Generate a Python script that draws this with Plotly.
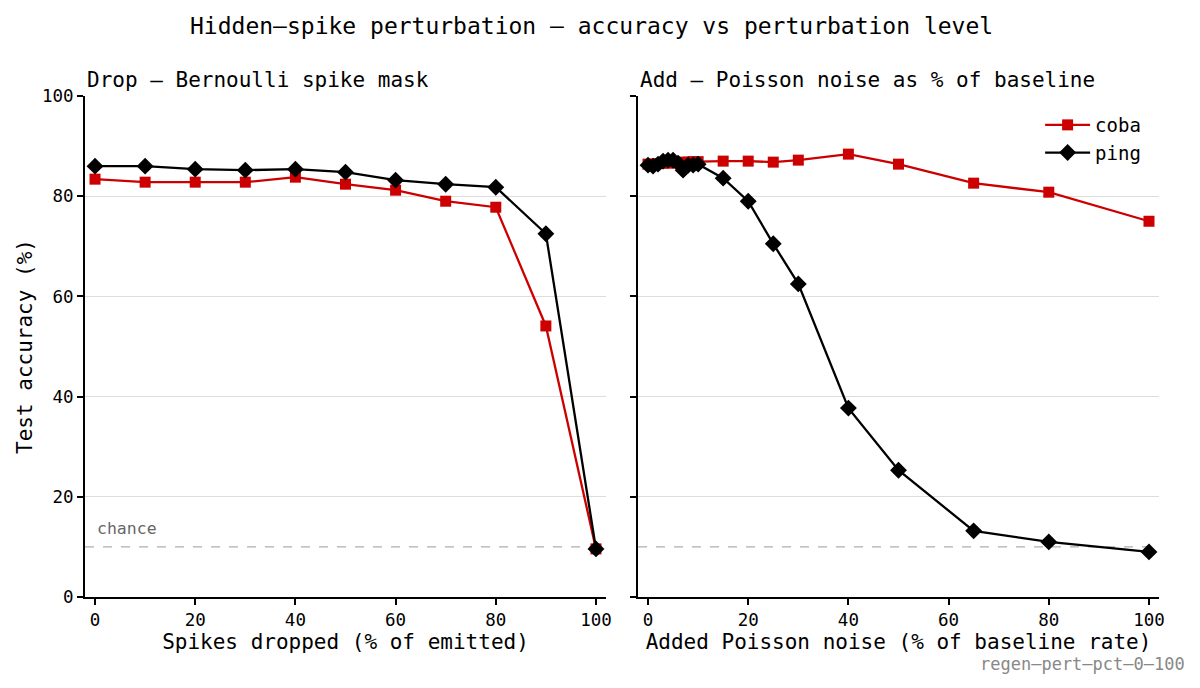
import plotly.graph_objects as go
from plotly.subplots import make_subplots

FONT = "DejaVu Sans Mono"

drop_x = [0, 10, 20, 30, 40, 50, 60, 70, 80, 90, 100]
drop_coba = [83.4, 82.8, 82.8, 82.8, 83.8, 82.4, 81.2, 79.0, 77.8, 54.1, 9.6]
drop_ping = [86.0, 86.0, 85.4, 85.2, 85.4, 84.8, 83.2, 82.4, 81.8, 72.5, 9.6]

add_x = [0, 1, 2, 3, 4, 5, 6, 7, 8, 9, 10, 15, 20, 25, 30, 40, 50, 65, 80, 100]
add_coba = [86.4, 86.4, 86.5, 86.6, 86.6, 86.7, 86.6, 86.8, 86.8, 86.9, 86.9,
            87.0, 87.0, 86.8, 87.2, 88.4, 86.4, 82.6, 80.8, 75.0]
add_ping = [86.2, 86.0, 86.4, 87.0, 87.2, 87.2, 86.6, 85.2, 86.2, 86.2, 86.4,
            83.6, 79.0, 70.5, 62.5, 37.7, 25.3, 13.2, 11.0, 9.0]

chance = 10
x_ticks = [0, 20, 40, 60, 80, 100]
y_ticks = [0, 20, 40, 60, 80, 100]

RED = "#cc0000"
BLACK = "#000000"

fig = make_subplots(rows=1, cols=2, shared_yaxes=True, horizontal_spacing=0.0298)

def add_series(col, x, coba, ping, show):
    fig.add_trace(go.Scatter(x=x, y=coba, mode="lines+markers", name="coba",
                             line=dict(color=RED, width=2.3),
                             marker=dict(symbol="square", size=11, color=RED),
                             showlegend=show), row=1, col=col)
    fig.add_trace(go.Scatter(x=x, y=ping, mode="lines+markers", name="ping",
                             line=dict(color=BLACK, width=2.3),
                             marker=dict(symbol="diamond", size=13, color=BLACK),
                             showlegend=show), row=1, col=col)

add_series(1, drop_x, drop_coba, drop_ping, False)
add_series(2, add_x, add_coba, add_ping, True)

for col in (1, 2):
    fig.add_hline(y=chance, line=dict(color="#999999", width=1, dash="dash"),
                  row=1, col=col, layer="below")

axis_common = dict(showline=True, linecolor="black", linewidth=2, ticks="outside",
                   ticklen=6, tickwidth=2, tickcolor="black", mirror=False,
                   tickfont=dict(family=FONT, size=17.5, color="black"), zeroline=False)

fig.update_xaxes(range=[-2, 102], tickvals=x_ticks, showgrid=False, **axis_common)
fig.update_yaxes(range=[0, 100], tickvals=y_ticks, showgrid=True, gridcolor="#dddddd",
                 gridwidth=1, **axis_common)
fig.update_yaxes(showticklabels=False, row=1, col=2)

fig.update_xaxes(title=dict(text="Spikes dropped (% of emitted)", font=dict(family=FONT, size=21, color="black"), standoff=4), row=1, col=1)
fig.update_xaxes(title=dict(text="Added Poisson noise (% of baseline rate)", font=dict(family=FONT, size=21, color="black"), standoff=4), row=1, col=2)
fig.update_yaxes(title=dict(text="Test accuracy (%)", font=dict(family=FONT, size=21, color="black"), standoff=4), row=1, col=1)

fig.add_annotation(text="Drop – Bernoulli spike mask", xref="x domain", yref="y domain",
                   x=0, y=1.0, xanchor="left", yanchor="bottom", yshift=2, showarrow=False,
                   font=dict(family=FONT, size=21, color="black"))
fig.add_annotation(text="Add – Poisson noise as % of baseline", xref="x2 domain", yref="y2 domain",
                   x=0, y=1.0, xanchor="left", yanchor="bottom", yshift=2, showarrow=False,
                   font=dict(family=FONT, size=21, color="black"))
fig.add_annotation(text="chance", xref="x", yref="y", x=0, y=chance, xanchor="left", yanchor="bottom",
                   yshift=7, showarrow=False, font=dict(family=FONT, size=16.5, color="#666666"))
fig.add_annotation(text="regen–pert–pct–0–100", xref="paper", yref="paper", x=1.0, y=0,
                   xanchor="right", yanchor="middle", xshift=28, yshift=-67, showarrow=False,
                   font=dict(family=FONT, size=17, color="#888888"))

fig.update_layout(
    width=1200, height=688,
    margin=dict(l=85, r=41, t=96, b=91),
    paper_bgcolor="white", plot_bgcolor="white",
    title=dict(text="Hidden–spike perturbation – accuracy vs perturbation level",
               x=0.493, xanchor="center", y=0.963, yanchor="middle",
               font=dict(family=FONT, size=23, color="black")),
    font=dict(family=FONT),
    legend=dict(x=0.988, y=0.98, xanchor="right", yanchor="top", bgcolor="rgba(255,255,255,0)",
                font=dict(family=FONT, size=19, color="black"), itemwidth=45),
)

fig.write_html("out.html")
